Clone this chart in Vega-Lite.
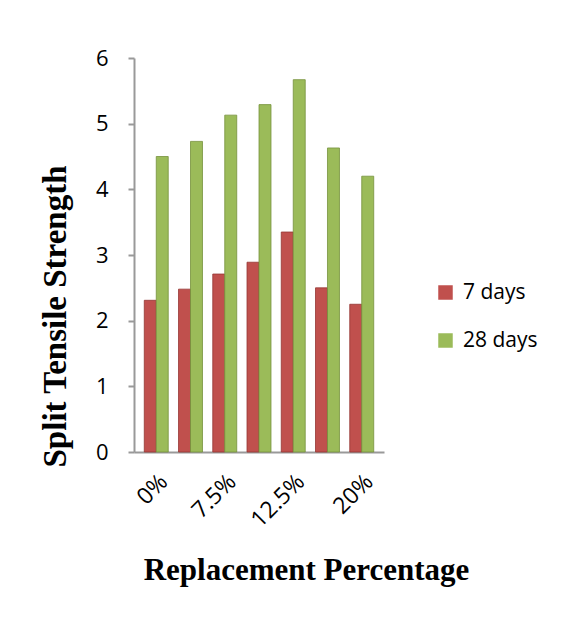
{
  "$schema": "https://vega.github.io/schema/vega-lite/v6.json",
  "width": 250,
  "height": 394,
  "autosize": "none",
  "padding": {"left": 134, "top": 58, "right": 181, "bottom": 173},
  "background": "white",
  "data": {
    "values": [
      {"pct": "0%", "age": "7 days", "strength": 2.31},
      {"pct": "0%", "age": "28 days", "strength": 4.50},
      {"pct": "5%", "age": "7 days", "strength": 2.48},
      {"pct": "5%", "age": "28 days", "strength": 4.73},
      {"pct": "7.5%", "age": "7 days", "strength": 2.71},
      {"pct": "7.5%", "age": "28 days", "strength": 5.13},
      {"pct": "10%", "age": "7 days", "strength": 2.89},
      {"pct": "10%", "age": "28 days", "strength": 5.29},
      {"pct": "12.5%", "age": "7 days", "strength": 3.35},
      {"pct": "12.5%", "age": "28 days", "strength": 5.67},
      {"pct": "15%", "age": "7 days", "strength": 2.50},
      {"pct": "15%", "age": "28 days", "strength": 4.63},
      {"pct": "20%", "age": "7 days", "strength": 2.25},
      {"pct": "20%", "age": "28 days", "strength": 4.20}
    ]
  },
  "mark": {"type": "bar", "strokeWidth": 0.8},
  "encoding": {
    "x": {
      "field": "pct", "type": "nominal", "sort": null,
      "scale": {"paddingInner": 0.3, "paddingOuter": 0.3},
      "axis": {
        "values": ["0%", "7.5%", "12.5%", "20%"],
        "title": "Replacement Percentage",
        "titleFont": "Liberation Serif", "titleFontSize": 31, "titleFontWeight": "bold", "titleColor": "black",
        "titleX": 172, "titleY": 127, "titleAlign": "center", "titleBaseline": "alphabetic",
        "labelAngle": -45, "labelFont": "Open Sans", "labelFontSize": 23, "labelColor": "black",
        "labelPadding": 18, "labelDx": -10,
        "ticks": false, "domainColor": "#999999", "domainWidth": 2
      }
    },
    "xOffset": {"field": "age", "type": "nominal", "sort": ["7 days", "28 days"]},
    "y": {
      "field": "strength", "type": "quantitative",
      "scale": {"domain": [0, 6]},
      "axis": {
        "values": [0, 1, 2, 3, 4, 5, 6],
        "title": "Split Tensile Strength",
        "titleFont": "Liberation Serif", "titleFontSize": 33, "titleFontWeight": "bold", "titleColor": "black",
        "titleX": -79, "titleY": 258, "titleAngle": -90, "titleAlign": "center", "titleBaseline": "middle",
        "labelFont": "Open Sans", "labelFontSize": 22, "labelColor": "black", "labelPadding": 20,
        "grid": false, "tickSize": 6, "tickColor": "#999999", "domainColor": "#999999", "domainWidth": 2, "tickWidth": 2
      }
    },
    "color": {
      "field": "age", "type": "nominal", "sort": ["7 days", "28 days"],
      "scale": {"domain": ["7 days", "28 days"], "range": ["#C0504D", "#9BBB59"]},
      "legend": {
        "title": null, "orient": "none", "legendX": 301, "legendY": 224,
        "symbolType": "square", "symbolSize": 210, "symbolStrokeWidth": 0,
        "labelFont": "Open Sans", "labelFontSize": 21, "labelColor": "black",
        "rowPadding": 26, "labelOffset": 7
      }
    },
    "stroke": {
      "field": "age", "type": "nominal",
      "scale": {"domain": ["7 days", "28 days"], "range": ["#943634", "#76923C"]},
      "legend": null
    }
  },
  "config": {"view": {"stroke": null}}
}
